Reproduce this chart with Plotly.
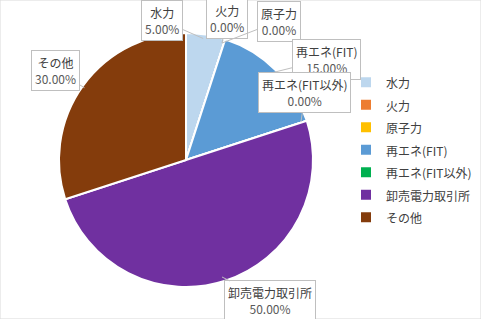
import numpy as np
import plotly.graph_objects as go

labels = ["水力", "火力", "原子力", "再エネ(FIT)", "再エネ(FIT以外)", "卸売電力取引所", "その他"]
values = [5, 0, 0, 15, 0, 50, 30]
colors = ["#BDD7EE", "#ED7D31", "#FFC000", "#5B9BD5", "#00B050", "#7030A0", "#843C0C"]

W, H = 481, 319
cx, cy, r = 184, 160, 123
rd = 127  # domain half-size (plotly draws pie slightly inside its domain)

fig = go.Figure()
fig.add_trace(go.Pie(
    labels=[f"<span style='font-size:12px'>{t}</span>" for t in labels],
    values=values, sort=False, direction="clockwise", rotation=0,
    marker=dict(colors=colors, line=dict(color="white", width=2)),
    textinfo="none", hoverinfo="label+percent",
    domain=dict(x=[(cx + 2 - rd) / W, (cx + 2 + rd) / W],
                y=[(H - cy - rd) / H, (H - cy + rd) / H]),
))

# label box offsets (pixels from slice edge to box centre)
offsets = [(-41, -18), (5, -25), (57, -22), (56, -14), (4, -29), (48, 24), (-29, -17)]

total = sum(values)
cum = np.cumsum([0] + values)
for i, lab in enumerate(labels):
    mid = (cum[i] + values[i] / 2) / total * 2 * np.pi
    px = cx + r * np.sin(mid)
    py = cy - r * np.cos(mid)
    pct = values[i] / total * 100
    fig.add_annotation(
        x=px / W, y=1 - py / H, xref="paper", yref="paper",
        ax=offsets[i][0], ay=offsets[i][1],
        text=f"{lab}<br><span style='color:#595959'>{pct:.2f}%</span>",
        showarrow=True, arrowhead=0, arrowwidth=1, arrowcolor="#BFBFBF",
        bgcolor="white", bordercolor="#BFBFBF", borderwidth=1, borderpad=3,
        font=dict(size=12, color="#404040", family="Noto Sans CJK JP"),
        align="center",
    )

fig.add_shape(type="rect", xref="paper", yref="paper", x0=0, y0=0, x1=1, y1=1,
              line=dict(color="#D9D9D9", width=1))

fig.update_layout(
    width=W, height=H, margin=dict(l=0, r=0, t=0, b=0),
    paper_bgcolor="white", plot_bgcolor="white",
    font=dict(family="Noto Sans CJK JP", color="#404040"),
    showlegend=True,
    legend=dict(x=346 / W, xanchor="left", y=1 - 66 / H, yanchor="top",
                font=dict(size=15, color="#404040", family="Noto Sans CJK JP"),
                itemwidth=30, bgcolor="rgba(0,0,0,0)"),
)

fig.write_html("out.html")
